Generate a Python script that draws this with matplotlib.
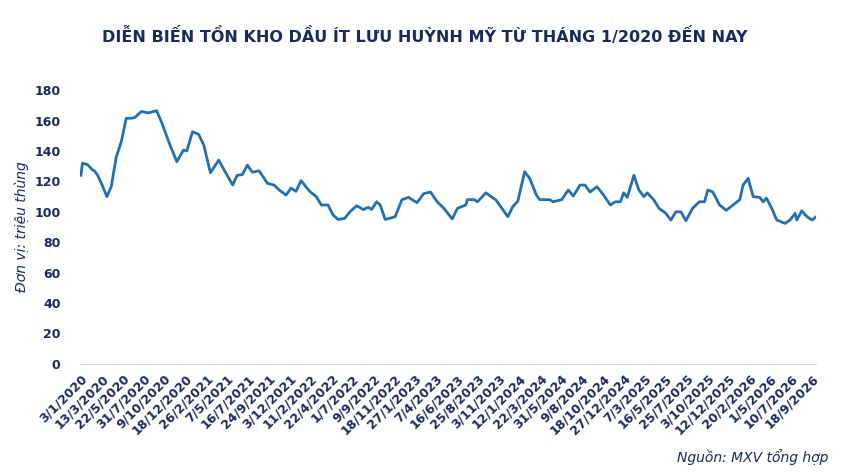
import matplotlib
matplotlib.use("Agg")
import matplotlib.pyplot as plt

# weeks since 3/1/2020 and stock level (million barrels)
weeks = [0, 0.7, 3.2, 5.6, 6.4, 8.0, 10.5, 12.4, 14.5, 16.9, 19.3, 21.7, 24.1, 25.8,
         29.0, 32.2, 36.2, 38.6, 42.6, 45.9, 49.1, 50.7, 53.4, 56.3, 58.8, 62.0,
         66.0, 69.2, 72.7, 74.8, 77.3, 79.7, 82.1, 85.3, 89.3, 92.5, 95.0, 98.2,
         100.6, 103.0, 105.4, 109.5, 112.7, 115.1, 118.3, 120.7, 123.1, 126.3,
         128.8, 132.0, 135.2, 137.6, 139.2, 141.6, 143.3, 145.7, 150.5, 153.7,
         156.9, 160.9, 164.2, 167.4, 170.6, 173.8, 177.8, 180.3, 184.3, 185.1,
         188.3, 189.9, 193.9, 196.4, 198.8, 204.4, 206.8, 209.2, 212.5, 214.9,
         218.1, 219.7, 224.5, 226.1, 230.2, 233.4, 235.8, 239.0, 241.4, 243.8,
         247.1, 250.3, 253.5, 255.9, 258.3, 259.9, 261.6, 264.8, 267.2, 269.6,
         271.2, 274.4, 276.8, 280.1, 282.5, 284.9, 287.3, 289.7, 292.9, 296.1,
         298.6, 300.2, 302.6, 305.8, 309.0, 312.3, 315.5, 317.1, 319.5, 321.9,
         325.1, 326.7, 328.3, 330.8, 333.2, 337.2, 339.6, 342.0, 342.8, 345.2,
         347.7, 350.1, 353.3]
stock = [124, 132, 131, 127.5, 127, 124, 116.5, 110, 116.5, 136, 146, 161.5, 161.5, 162,
         166, 165, 166.5, 159, 144, 133, 140.6, 140, 152.6, 151, 144, 125.7,
         134, 126, 117.6, 124, 124.5, 130.7, 126, 127, 118.7, 117.6, 114.3, 111,
         115.6, 113.5, 120.5, 113.5, 110, 104.5, 104.5, 98, 95, 95.7,
         100, 104, 101.5, 103, 101.5, 106.6, 104.5, 95, 96.8, 108,
         109.5, 106, 112, 113, 106.6, 102.3, 95.3, 102.3, 104.5, 108,
         108, 106.6, 112.5, 110, 107.7, 96.8, 103.4, 107, 126.4, 122,
         111, 108, 108, 106.6, 108, 114.3, 110.4, 117.6, 117.6, 113,
         116.5, 111, 104.5, 106.6, 106.6, 112.5, 109.5, 124, 114.3, 110,
         112.5, 107.7, 102.3, 99, 94.6, 100, 100, 94.2, 102.3, 106.6,
         106.6, 114.3, 113, 104.5, 101, 104.5, 108, 117.6, 122, 110,
         109.5, 106.6, 109, 102.3, 94.6, 92.4, 94.6, 99, 94.6, 100.7,
         96.8, 94.6, 98]

tick_labels = ["3/1/2020", "13/3/2020", "22/5/2020", "31/7/2020", "9/10/2020",
               "18/12/2020", "26/2/2021", "7/5/2021", "16/7/2021", "24/9/2021",
               "3/12/2021", "11/2/2022", "22/4/2022", "1/7/2022", "9/9/2022",
               "18/11/2022", "27/1/2023", "7/4/2023", "16/6/2023", "25/8/2023",
               "3/11/2023", "12/1/2024", "22/3/2024", "31/5/2024", "9/8/2024",
               "18/10/2024", "27/12/2024", "7/3/2025", "16/5/2025", "25/7/2025",
               "3/10/2025", "12/12/2025", "20/2/2026", "1/5/2026", "10/7/2026",
               "18/9/2026"]
tick_pos = [10 * i for i in range(len(tick_labels))]

navy = "#1b2a5e"
fig = plt.figure(figsize=(8.5, 4.72), dpi=100)
ax = fig.add_axes([0.094, 0.229, 0.866, 0.58])
ax.plot(weeks, stock, color="#2270b0", lw=2)

ax.set_xlim(-0.5, 352)
ax.set_ylim(0, 180)
ax.set_yticks(range(0, 181, 20))
ax.set_xticks(tick_pos)
ax.set_xticklabels(tick_labels, rotation=45, ha="right", rotation_mode="anchor")
ax.tick_params(axis="both", length=0, colors=navy, labelsize=9)
for lab in ax.get_xticklabels() + ax.get_yticklabels():
    lab.set_fontweight("bold")
ax.tick_params(axis="x", pad=6)
ax.tick_params(axis="y", pad=14)

for s in ["top", "right", "left"]:
    ax.spines[s].set_visible(False)
ax.spines["bottom"].set_color("#d9d9d9")

ax.set_ylabel("Đơn vị: triệu thùng", style="italic", color=navy, fontsize=10)

fig.text(0.5, 0.91, "DIỄN BIẾN TỒN KHO DẦU ÍT LƯU HUỲNH MỸ TỪ THÁNG 1/2020 ĐẾN NAY",
         ha="center", fontsize=11.5, fontweight="bold", color=navy)
fig.text(0.975, 0.022, "Nguồn: MXV tổng hợp", ha="right", style="italic",
         fontsize=10, color=navy)

fig.savefig("out.png", dpi=100)
